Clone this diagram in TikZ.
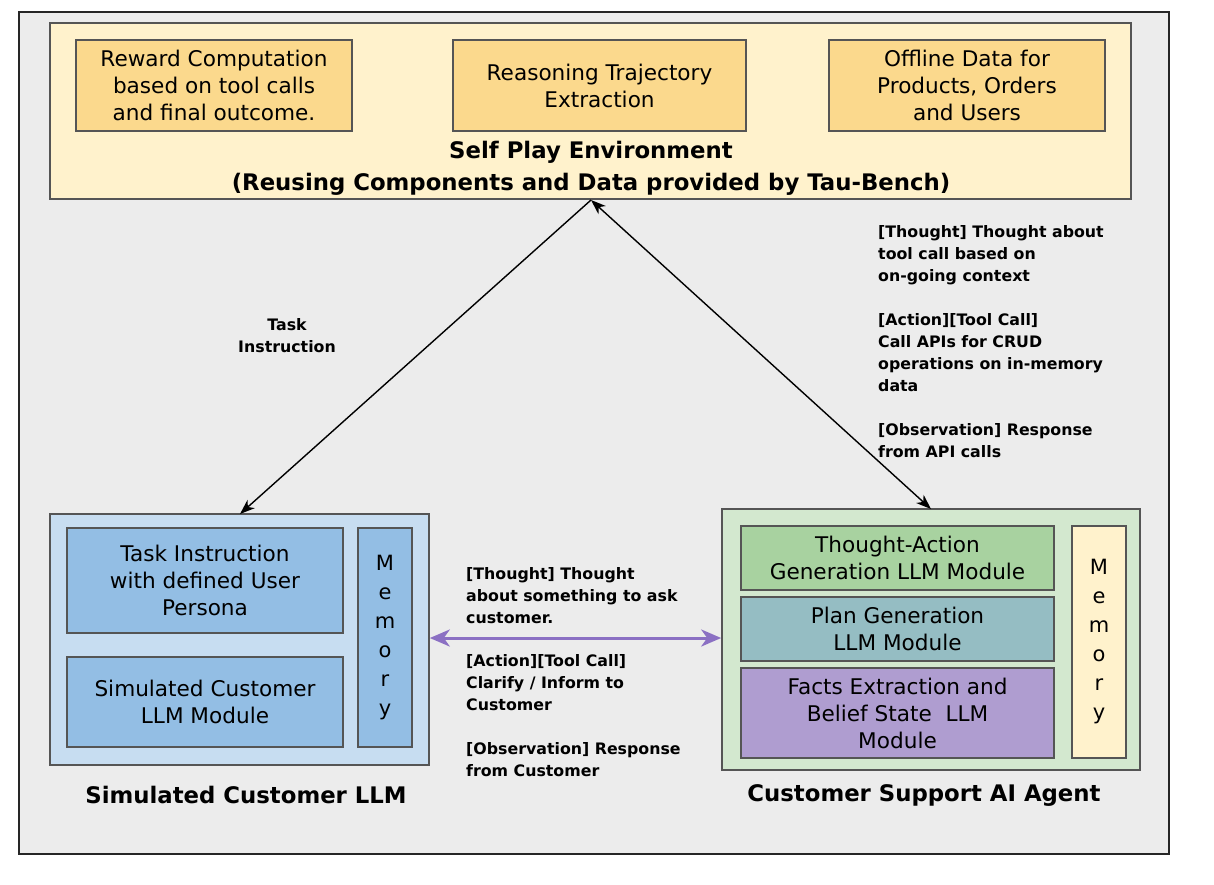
\documentclass[tikz,border=0pt]{standalone}
\usepackage{fontspec}
\setmainfont{DejaVu Sans}
\usetikzlibrary{arrows.meta,positioning}
\definecolor{bgc}{HTML}{ECECEC}
\definecolor{envfill}{HTML}{FFF2CC}
\definecolor{envbox}{HTML}{FBD98D}
\definecolor{simouter}{HTML}{C7DDF1}
\definecolor{siminner}{HTML}{93BEE4}
\definecolor{csouter}{HTML}{D3E8CF}
\definecolor{tafill}{HTML}{A8D2A0}
\definecolor{pgfill}{HTML}{95BDC3}
\definecolor{fefill}{HTML}{AF9DD0}
\definecolor{purp}{HTML}{8B70C3}
\definecolor{edgec}{HTML}{555555}
\tikzset{
  boxc/.style={draw=edgec, line width=1.6pt, inner sep=0pt, align=center,
     font=\fontsize{21.6}{27}\selectfont},
  titlec/.style={inner sep=0pt, align=center, font=\bfseries\fontsize{22.8}{32}\selectfont},
  notec/.style={inner sep=0pt, align=left, font=\bfseries\fontsize{15.8}{22}\selectfont},
  memc/.style={boxc, font=\fontsize{21}{29}\selectfont},
  arr/.style={line width=1.4pt, black},
  tipc/.tip={Stealth[length=15pt,width=11pt,inset=4.5pt]},
  ptip/.tip={Stealth[length=20pt,width=17pt,inset=6pt]}
}
\begin{document}
\begin{tikzpicture}[x=1pt,y=-1pt]
\useasboundingbox (0,0) rectangle (1214,884);
\fill[white] (0,0) rectangle (1214,884);
\draw[fill=bgc, draw=black!85, line width=1.6pt] (19,12) rectangle (1169,854);

% Self play environment
\node[boxc, fill=envfill, minimum width=1081pt, minimum height=176pt] (env) at (590.5,111) {};
\node[boxc, fill=envbox, minimum width=276pt, minimum height=91pt] (reward) at (214,85.5)
  {Reward Computation\\based on tool calls\\and final outcome.};
\node[boxc, fill=envbox, minimum width=293pt, minimum height=91pt] (reason) at (599.5,85.5)
  {Reasoning Trajectory\\Extraction};
\node[boxc, fill=envbox, minimum width=276pt, minimum height=91pt] (offline) at (967,85.5)
  {Offline Data for\\Products, Orders\\and Users};
\node[titlec] (envtitle) at (591,168) {Self Play Environment\\(Reusing Components and Data provided by Tau-Bench)};

% Simulated customer
\node[boxc, fill=simouter, minimum width=379pt, minimum height=251pt] (sim) at (239.5,639.5) {};
\node[boxc, fill=siminner, minimum width=276pt, minimum height=105pt] (task) at (205,580.5)
  {Task Instruction\\with defined User\\Persona};
\node[boxc, fill=siminner, minimum width=276pt, minimum height=90pt] (simmod) at (205,702)
  {Simulated Customer\\LLM Module};
\node[memc, fill=siminner, minimum width=54pt, minimum height=219pt] (meml) at (385,637.5)
  {M\\e\\m\\o\\r\\y};
\node[titlec] (simtitle) at (246,795) {Simulated Customer LLM};

% Customer support agent
\node[boxc, fill=csouter, minimum width=418pt, minimum height=261pt] (cs) at (931,639.5) {};
\node[boxc, fill=tafill, minimum width=313pt, minimum height=64pt] (ta) at (897.5,558)
  {Thought-Action\\Generation LLM Module};
\node[boxc, fill=pgfill, minimum width=313pt, minimum height=64pt] (pg) at (897.5,629)
  {Plan Generation\\LLM Module};
\node[boxc, fill=fefill, minimum width=313pt, minimum height=90pt] (fe) at (897.5,713)
  {Facts Extraction and\\Belief State~ LLM\\Module};
\node[memc, fill=envfill, minimum width=54pt, minimum height=232pt] (memr) at (1099,642)
  {M\\e\\m\\o\\r\\y};
\node[titlec] (cstitle) at (924,795) {Customer Support AI Agent};

% labels
\node[notec, align=center] (tasklbl) at (287,336) {Task\\Instruction};
\node[notec, anchor=north west] (rightlbl) at (878,225)
  {[Thought] Thought about\\tool call based on\\on-going context\\[22pt]
   [Action][Tool Call]\\Call APIs for CRUD\\operations on in-memory\\data\\[22pt]
   [Observation] Response\\from API calls};
\node[notec, anchor=north west] (midlbl) at (466,567)
  {[Thought] Thought\\about something to ask\\customer.\\[21pt]
   [Action][Tool Call]\\Clarify / Inform to\\Customer\\[22pt]
   [Observation] Response\\from Customer};

% connectors
\coordinate (apex) at (591,200);
\coordinate (simtop) at (240,514);
\coordinate (cstop) at (931,509);
\draw[arr, -{tipc}] (apex) -- (simtop);
\draw[arr, {tipc}-{tipc}] (apex) -- (cstop);
\draw[line width=3pt, purp, {ptip}-{ptip}] (sim.east |- 0,638) -- (cs.west |- 0,638);
\end{tikzpicture}
\end{document}
